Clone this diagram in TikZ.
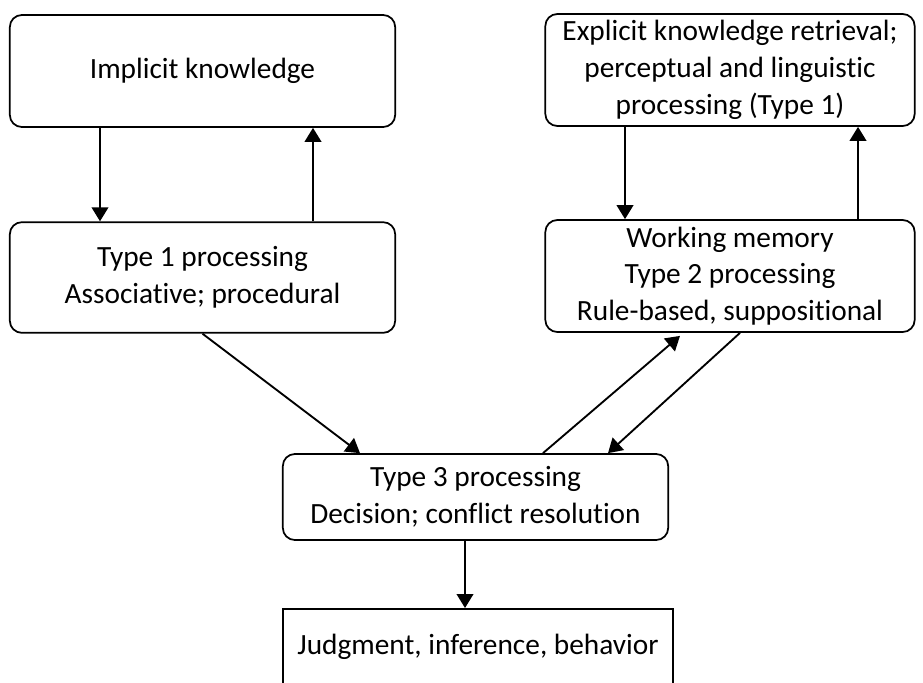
\documentclass[tikz,border=0pt]{standalone}
\usepackage{fontspec}
\setmainfont{Carlito}[Ligatures=NoCommon]
\usepackage{tikz}
\usetikzlibrary{arrows.meta,positioning,calc}
\tikzset{
  roundbox/.style={draw=black,fill=white,line width=1.3pt,rounded corners=9pt,
                   align=center,inner sep=0pt,
                   font=\fontsize{22pt}{27.5pt}\selectfont},
  plainbox/.style={draw=black,fill=white,line width=1.3pt,
                   align=center,inner sep=0pt,
                   font=\fontsize{22pt}{27.5pt}\selectfont},
  flowarr/.style={-{Triangle[length=10.5pt,width=12.5pt]},line width=1.4pt,
                  draw=black}
}
\begin{document}
\begin{tikzpicture}[x=0.75pt,y=-0.75pt]
    \path[use as bounding box] (0,0) rectangle (923,682);
    \node[roundbox,minimum width=289pt,minimum height=84pt] (impl) at (202.5,71)
      {Implicit knowledge};
    \node[roundbox,minimum width=277pt,minimum height=84pt] (expl) at (730,70)
      {Explicit knowledge retrieval;\\perceptual and linguistic\\
       processing (Type 1)};
    \node[roundbox,minimum width=289pt,minimum height=83pt] (typeone) at (202.5,277.5)
      {Type 1 processing\\Associative; procedural};
    \node[roundbox,minimum width=277pt,minimum height=84pt] (wm) at (730,276)
      {Working memory\\Type 2 processing\\Rule-based, suppositional};
    \node[roundbox,minimum width=289pt,minimum height=64.5pt] (typethree) at (475.5,497)
      {Type 3 processing\\Decision; conflict resolution};
    \node[plainbox,minimum width=292pt,minimum height=70pt,text depth=17pt,
          anchor=north] (judg) at (478,608)
      {Judgment, inference, behavior};
    % columns of the connectors
    \coordinate (c1) at (100,0);
    \coordinate (c2) at (313,0);
    \coordinate (c3) at (625,0);
    \coordinate (c4) at (858,0);
    \coordinate (c5) at (360,0);
    \coordinate (c6) at (543,0);
    \coordinate (c7) at (608,0);
    \coordinate (c8) at (680,0);
    \coordinate (c9) at (740,0);
    \coordinate (c10) at (465,0);
    \draw[flowarr] (impl.south -| c1) -- (typeone.north -| c1);
    \draw[flowarr] (typeone.north -| c2) -- (impl.south -| c2);
    \draw[flowarr] (expl.south -| c3) -- (wm.north -| c3);
    \draw[flowarr] (wm.north -| c4) -- (expl.south -| c4);
    \draw[flowarr] (typeone.south) -- (typethree.north -| c5);
    \draw[flowarr] (typethree.north -| c6) -- ($(wm.south -| c8)+(0,3)$);
    \draw[flowarr] (wm.south -| c9) -- (typethree.north -| c7);
    \draw[flowarr] (typethree.south -| c10) -- (judg.north -| c10);
  \end{tikzpicture}
\end{document}
